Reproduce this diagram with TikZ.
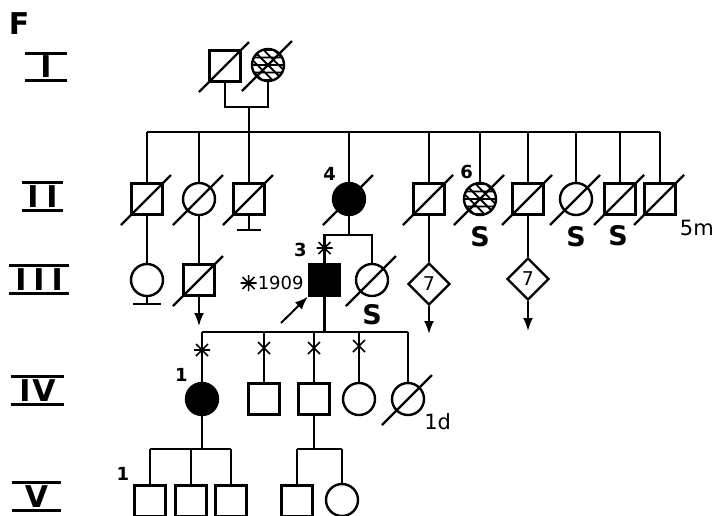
\documentclass[tikz,border=0pt]{standalone}
\usepackage{fontspec}
\setmainfont{DejaVu Sans}
\usetikzlibrary{positioning, shapes.geometric, arrows.meta, calc}

\begin{document}
\begin{tikzpicture}[
    x=1pt, y=-1pt,
    line width=2.4pt,
    arrow/.style={
        -{Latex[length=13pt,width=10pt]},
        line width=2pt
    },
    male/.style={
        rectangle,
        draw,
        minimum size=31pt,
        inner sep=0pt
    },
    female/.style={
        circle,
        draw,
        minimum size=32pt,
        inner sep=0pt
    },
    affected/.style={
        fill=black
    },
    carrier/.style={
        path picture={
            \foreach \k in {-3,...,3}
                \draw[line width=1.9pt]
                    ([shift={(-20,\k*7.5)}]path picture bounding box.center) -- ++(40,0)
                    ([shift={(-20,\k*10.6-20)}]path picture bounding box.center) -- ++(40,40);
        }
    },
    unknown/.style={
        diamond,
        draw,
        minimum size=42pt,
        inner sep=0pt,
        font=\fontsize{19}{19}\selectfont
    },
    gen/.style={
        inner sep=0pt,
        minimum height=25pt,
        font=\bfseries\fontsize{30}{30}\selectfont
    },
    num/.style={
        inner sep=0pt,
        font=\bfseries\fontsize{18}{18}\selectfont
    },
    slabel/.style={
        inner sep=0pt,
        font=\bfseries\fontsize{27}{27}\selectfont
    },
    note/.style={
        inner sep=0pt,
        font=\fontsize{21}{21}\selectfont
    },
    xmark/.pic={
        \draw[line width=1.6pt] (-6,-6) -- (6,6) (-6,6) -- (6,-6);
    },
    astmark/.pic={
        \draw[line width=1.6pt] (-6,-6) -- (6,6) (-6,6) -- (6,-6) (-8,0) -- (8,0) (0,-8) -- (0,8);
    }
]

    \useasboundingbox (0,0) rectangle (717,515);

    % Family and generations
    \node[font=\bfseries\fontsize{30}{30}\selectfont, inner sep=0pt] (fam) at (19,24) {F};
    \node[gen, minimum width=40pt] (gI) at (46,67) {I};
    \node[gen, minimum width=39pt] (gII) at (42.5,196.5) {I\kern8pt I};
    \node[gen, minimum width=57pt] (gIII) at (39,279.5) {I\kern7pt I\kern7pt I};
    \node[gen, minimum width=51pt] (gIV) at (37.5,390.5) {I\kern2pt V};
    \node[gen, minimum width=47pt] (gV) at (36.5,496.5) {V};
    \foreach \g in {gI,gII,gIII,gIV,gV}
        \draw[line width=2.8pt] (\g.north west) -- (\g.north east) (\g.south west) -- (\g.south east);

    % Generation I
    \node[male] (i1) at (225,66) {};
    \node[female, carrier] (i2) at (268,65) {};
    \coordinate (mateI) at (249,107);
    \coordinate (sibII) at (249,132);
    \draw (i1) |- (mateI) -| (i2);
    \draw (mateI) -- (sibII);

    % Generation II
    \node[male] (ii1) at (147,199) {};
    \node[female] (ii2) at (199,199) {};
    \node[male] (ii3) at (249,199) {};
    \node[female, affected] (ii4) at (349,199) {};
    \node[male] (ii5) at (429,199) {};
    \node[female, carrier] (ii6) at (480,199) {};
    \node[male] (ii7) at (528,199) {};
    \node[female] (ii8) at (576,199) {};
    \node[male] (ii9) at (620,199) {};
    \node[male] (ii10) at (660,199) {};

    \draw (ii1.north |- sibII) -- (ii10.north |- sibII);
    \foreach \n in {ii1,ii2,ii3,ii4,ii5,ii6,ii7,ii8,ii9,ii10}
        \draw (\n) -- (\n |- sibII);

    \draw (ii3.south) -- ++(0,14) coordinate (ii3bar);
    \draw ([xshift=-12pt]ii3bar) -- ([xshift=12pt]ii3bar);

    \node[num, above left=0pt and 12pt of ii4.north] {4};
    \node[num, above left=2pt and 6pt of ii6.north] {6};
    \node[slabel, below=9pt of ii6] {S};
    \node[slabel, below=9pt of ii8] {S};
    \node[slabel, below=9pt of ii9, xshift=-2pt] {S};
    \node[note, below right=3.5pt and 2pt of ii10] {5m};

    % Generation III
    \node[female] (iii1) at (147,280) {};
    \node[male] (iii2) at (199,280) {};
    \node[male, affected] (iii3) at (324.5,280) {};
    \node[female] (iii4) at (372,280) {};
    \node[unknown] (d1) at (429,284) {7};
    \node[unknown] (d2) at (528,279) {7};

    \draw (ii1) -- (iii1);
    \draw (ii2) -- (iii2);
    \draw (ii5) -- (d1);
    \draw (ii7) -- (d2);

    \draw (iii1.south) -- ++(0,7) coordinate (iii1bar);
    \draw ([xshift=-14pt]iii1bar) -- ([xshift=14pt]iii1bar);

    \coordinate (iii2end) at (199,326);
    \coordinate (d1end) at (429,334);
    \coordinate (d2end) at (528,331);
    \draw[arrow] (iii2) -- (iii2end);
    \draw[arrow] (d1) -- (d1end);
    \draw[arrow] (d2) -- (d2end);

    \coordinate (sibIII) at (349,235);
    \draw (ii4) -- (sibIII);
    \draw (iii3) |- (sibIII) -| (iii4);
    \pic at (324.5,248) {astmark};

    \node[num, above left=5pt and 0pt of iii3.north west] {3};
    \node[note, font=\fontsize{18}{18}\selectfont, left=3pt of iii3, yshift=-3pt] (year) {1909};
    \pic at ([xshift=-8pt]year.west) {astmark};
    \node[slabel, below=6pt of iii4] {S};

    \coordinate (pa) at (281,323);
    \draw[arrow] (pa) -- (iii3.south west);

    % Generation IV
    \node[female, affected] (iv1) at (202,399) {};
    \node[male] (iv2) at (264,399) {};
    \node[male] (iv3) at (314,399) {};
    \node[female] (iv4) at (359,399) {};
    \node[female] (iv5) at (408,399) {};

    \coordinate (sibIV) at (324.5,332);
    \draw (iii3) -- (sibIV);
    \draw (iv1.north |- sibIV) -- (iv5.north |- sibIV);
    \foreach \n in {iv1,iv2,iv3,iv4,iv5}
        \draw (\n) -- (\n |- sibIV);

    \pic at (202,350) {astmark};
    \pic at (264,348) {xmark};
    \pic at (314,348) {xmark};
    \pic at (359,346) {xmark};

    \node[num, above left=4pt and 1pt of iv1.north west] {1};
    \node[note, below right=1pt and 3pt of iv5] {1d};

    % Generation V
    \node[male] (v1) at (150,501) {};
    \node[male] (v2) at (191,501) {};
    \node[male] (v3) at (231,501) {};
    \node[male] (v4) at (297,501) {};
    \node[female] (v5) at (342,500) {};

    \coordinate (sibV) at (202,449);
    \draw (iv1) -- (sibV);
    \draw (v1.north |- sibV) -- (v3.north |- sibV);
    \foreach \n in {v1,v2,v3}
        \draw (\n) -- (\n |- sibV);

    \coordinate (sibVb) at (314,449);
    \draw (iv3) -- (sibVb);
    \draw (v4.north |- sibVb) -- (v5.north |- sibVb);
    \foreach \n in {v4,v5}
        \draw (\n) -- (\n |- sibVb);

    \node[num, above left=3pt and 3pt of v1.north west] {1};

    % Deceased
    \foreach \n in {i1,i2,ii1,ii2,ii3,ii4,ii5,ii6,ii7,ii8,ii9,ii10,iii2,iii4,iv5}
        \draw (\n.center) ++(-26,26) -- ++(50,-50);

\end{tikzpicture}
\end{document}
